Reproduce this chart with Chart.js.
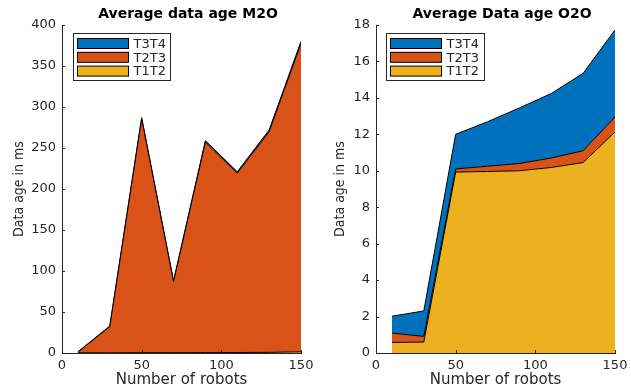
<!DOCTYPE html>
<html>
<head>
<meta charset="utf-8">
<script src="https://cdn.jsdelivr.net/npm/chart.js@4/dist/chart.umd.min.js"></script>
<style>
  html, body { margin: 0; padding: 0; background: #fff; }
  #wrap { position: relative; width: 631px; height: 387px; overflow: hidden; }
  .pane { position: absolute; top: 0; height: 387px; }
</style>
</head>
<body>
<div id="wrap">
  <div class="pane" id="p1" style="left:0;width:316px"><canvas id="c1"></canvas></div>
  <div class="pane" id="p2" style="left:316px;width:315px"><canvas id="c2"></canvas></div>
</div>
<script>
// ---- data ----
const robots = [10, 30, 50, 70, 90, 110, 130, 150];
const seriesNames = ['T1T2', 'T2T3', 'T3T4'];

const m2oT1T2 = [0.3, 0.3, 0.4, 0.4, 0.5, 0.6, 0.8, 1.5];
const m2oT2T3 = [0.7, 31.9, 285.4, 86.6, 256.7, 218.8, 269.2, 376.0];
const m2oT3T4 = [0.5, 0.8, 1.2, 1.0, 1.8, 1.6, 2.0, 2.5];

const o2oT1T2 = [0.58, 0.60, 9.93, 9.96, 10.00, 10.18, 10.45, 12.13];
const o2oT2T3 = [0.51, 0.31, 0.17, 0.29, 0.40, 0.52, 0.65, 0.82];
const o2oT3T4 = [0.93, 1.40, 1.90, 2.44, 3.05, 3.54, 4.25, 4.78];

const xTicks = [0, 50, 100, 150];
const m2oYTicks = [0, 50, 100, 150, 200, 250, 300, 350, 400];
const o2oYTicks = [0, 2, 4, 6, 8, 10, 12, 14, 16, 18];

const colors = ['#EDB120', '#D95319', '#0072BD'];
const axisColor = '#262626';
const FONT = "'DejaVu Sans', 'Liberation Sans', sans-serif";

function makeDatasets(arrs) {
  return arrs.map((vals, i) => ({
    label: seriesNames[i],
    data: vals.map((v, k) => ({ x: robots[k], y: v })),
    backgroundColor: colors[i],
    borderColor: '#000',
    borderWidth: 1,
    pointRadius: 0,
    tension: 0,
    fill: i === 0 ? 'origin' : '-1'
  }));
}

const decorPlugin = {
  id: 'decor',
  afterDraw(chart, args, opts) {
    const ctx = chart.ctx;
    const ca = chart.chartArea;
    const xs = chart.scales.x, ys = chart.scales.y;
    ctx.save();
    // inward tick marks
    ctx.strokeStyle = axisColor;
    ctx.lineWidth = 1;
    ctx.beginPath();
    xs.ticks.forEach(t => {
      const px = Math.round(xs.getPixelForValue(t.value)) + 0.5;
      ctx.moveTo(px, ca.bottom);
      ctx.lineTo(px, ca.bottom - 3);
    });
    ys.ticks.forEach(t => {
      const py = Math.round(ys.getPixelForValue(t.value)) + 0.5;
      ctx.moveTo(ca.left, py);
      ctx.lineTo(ca.left + 3, py);
    });
    ctx.stroke();
    // title
    ctx.fillStyle = '#000';
    ctx.font = 'bold 14px ' + FONT;
    ctx.textAlign = 'center';
    ctx.textBaseline = 'middle';
    ctx.fillText(opts.title, opts.titleX, 14);
    // legend box
    const bx = ca.left + opts.legendDx + 0.5, by = ca.top + 8 + 0.5;
    const bw = opts.legendW, bh = 47;
    ctx.fillStyle = '#fff';
    ctx.fillRect(bx, by, bw, bh);
    ctx.strokeStyle = axisColor;
    ctx.strokeRect(bx, by, bw, bh);
    const order = [2, 1, 0];
    ctx.font = '13px ' + FONT;
    ctx.textAlign = 'left';
    order.forEach((di, r) => {
      const ds = chart.data.datasets[di];
      const cy = by + 10 + r * 13.8;
      ctx.fillStyle = ds.backgroundColor;
      ctx.fillRect(bx + 4, cy - 5, 51, 10);
      ctx.strokeStyle = '#000';
      ctx.strokeRect(bx + 4, cy - 5, 51, 10);
      ctx.fillStyle = axisColor;
      ctx.fillText(ds.label, bx + 60, cy + 1);
    });
    ctx.restore();
  }
};

function makeChart(canvasId, arrs, yMax, yTickVals, yAxisWidth, rightPad, yTitlePad, pluginOpts) {
  return new Chart(document.getElementById(canvasId), {
    type: 'line',
    data: { datasets: makeDatasets(arrs) },
    plugins: [decorPlugin],
    options: {
      responsive: true,
      maintainAspectRatio: false,
      animation: false,
      layout: { padding: { top: 25, right: rightPad, left: 0, bottom: 0 } },
      plugins: {
        legend: { display: false },
        title: { display: false },
        tooltip: { enabled: false },
        decor: pluginOpts
      },
      elements: { line: { borderJoinStyle: 'miter' } },
      scales: {
        x: {
          type: 'linear',
          min: 0, max: 150,
          afterBuildTicks: s => { s.ticks = xTicks.map(v => ({ value: v })); },
          afterFit: s => { s.height = 34; s.paddingLeft = 0; s.paddingRight = 0; },
          grid: { display: true, drawOnChartArea: false, drawTicks: false },
          border: { display: true, color: axisColor, width: 1 },
          ticks: { padding: 5, maxRotation: 0, color: axisColor, font: { family: FONT, size: 13 } },
          title: {
            display: true, text: 'Number of robots', color: axisColor,
            font: { family: FONT, size: 15 }, padding: { top: 0, bottom: -2 }
          }
        },
        y: {
          stacked: true,
          min: 0, max: yMax,
          afterBuildTicks: s => { s.ticks = yTickVals.map(v => ({ value: v })); },
          afterFit: s => { s.width = yAxisWidth; s.paddingTop = 0; s.paddingBottom = 0; },
          grid: { display: true, drawOnChartArea: false, drawTicks: false },
          border: { display: true, color: axisColor, width: 1 },
          ticks: { padding: 6, color: axisColor, font: { family: FONT, size: 13 } },
          title: {
            display: true, text: 'Data age in ms', color: axisColor,
            font: { family: "'Liberation Sans Narrow', 'DejaVu Sans Condensed', sans-serif", size: 14 },
            padding: { top: yTitlePad, bottom: 0 }
          }
        }
      }
    }
  });
}

makeChart('c1', [m2oT1T2, m2oT2T3, m2oT3T4], 400, m2oYTicks, 62, 15, 10.5,
  { title: 'Average data age M2O', titleX: 188, legendDx: 11, legendW: 97 });
makeChart('c2', [o2oT1T2, o2oT2T3, o2oT3T4], 18, o2oYTicks, 60, 16, 15.5,
  { title: 'Average Data age O2O', titleX: 186, legendDx: 10, legendW: 98 });
</script>
</body>
</html>
